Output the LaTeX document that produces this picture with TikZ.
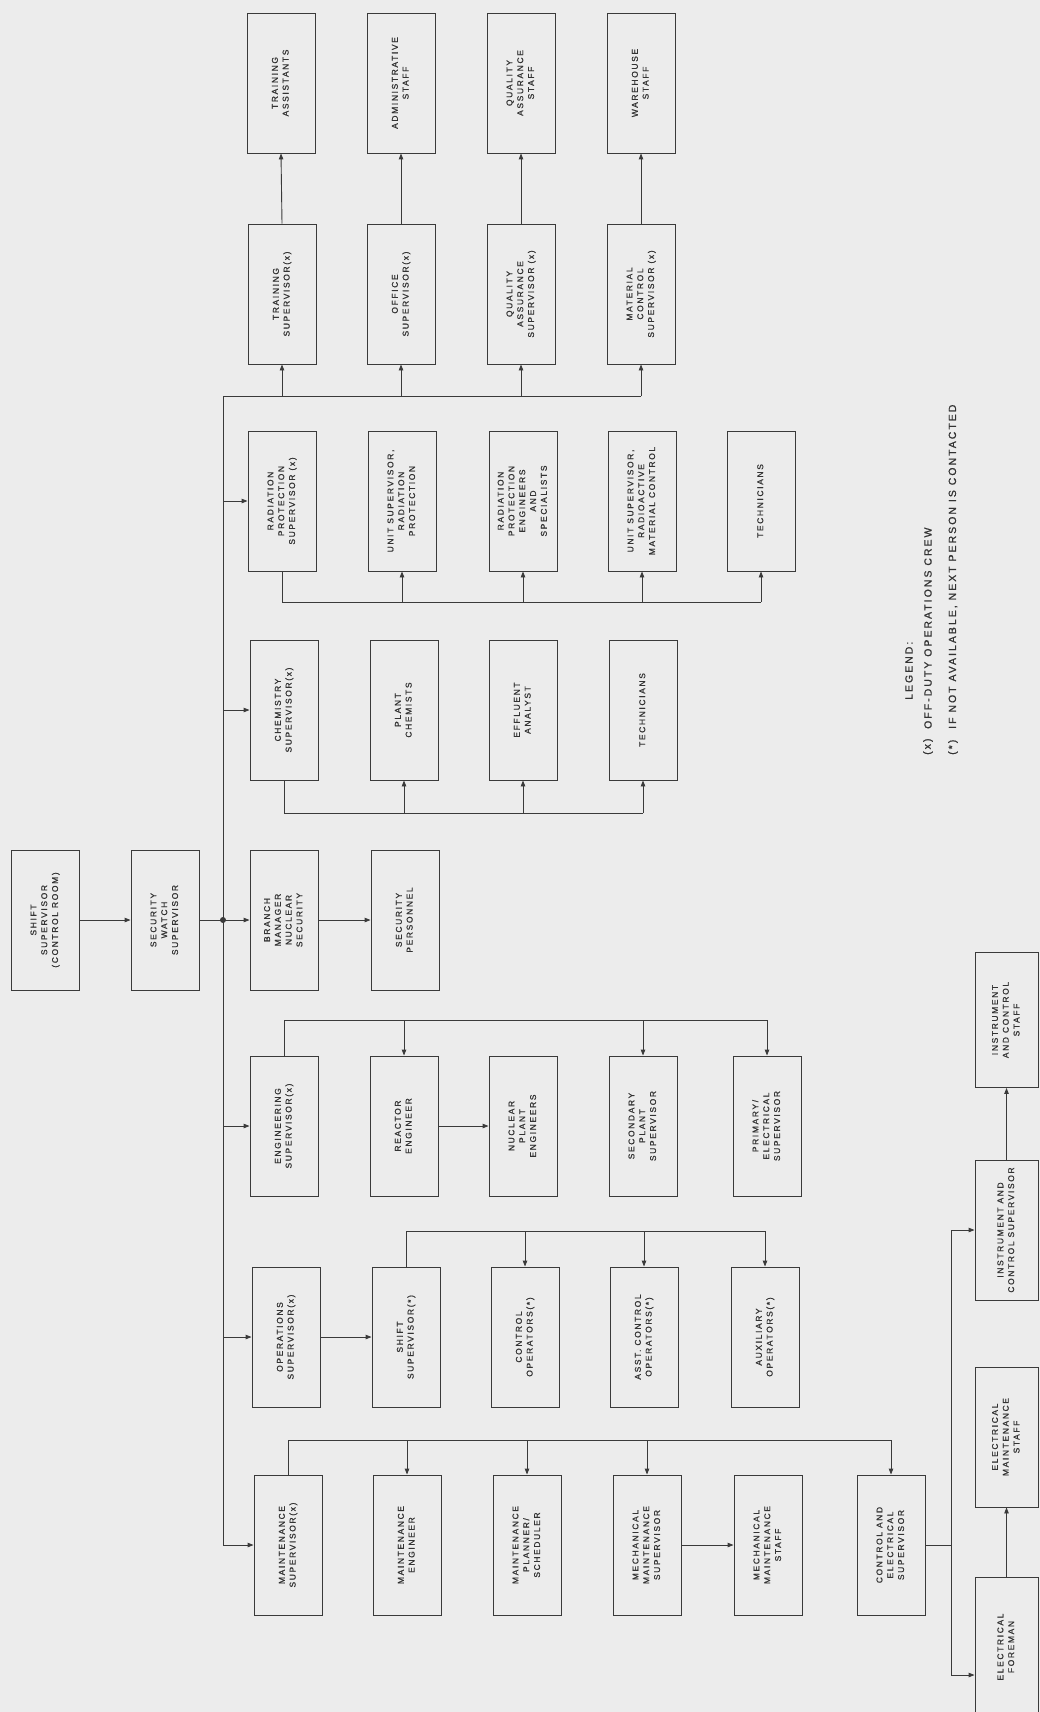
\documentclass[tikz,border=0pt]{standalone}
\usepackage{fontspec}
\usepackage{graphicx}
\newfontfamily\boxfnt[LetterSpace=20,FakeBold=1]{Liberation Sans}
\usetikzlibrary{arrows.meta}
\definecolor{lc}{HTML}{3A3A3A}
\definecolor{bgc}{HTML}{ECECEC}
\definecolor{tc}{HTML}{333333}
\newcommand\bxt[1]{\rotatebox{90}{\begin{tabular}{@{}c@{}}#1\end{tabular}}}
\begin{document}
\begin{tikzpicture}[x=1pt,y=-1pt,
  bx/.style={draw=lc, line width=0.9pt, fill=bgc, minimum width=68pt, minimum height=140pt,
    inner sep=0pt, font=\boxfnt\fontsize{8.4}{10.8}\selectfont, text=tc},
  ln/.style={draw=lc, line width=0.9pt},
  ar/.style={ln, -{Triangle[length=6pt,width=4.5pt]}},
  lg/.style={rotate=90, anchor=west, inner sep=0pt, font=\boxfnt\fontsize{10.4}{11}\selectfont, text=tc}]
\fill[bgc] (0,0) rectangle (1040,1712);
\useasboundingbox (0,0) rectangle (1040,1712);

% top of the chain
\node[bx] (ss) at (45,920) {\bxt{SHIFT\\SUPERVISOR\\(CONTROL ROOM)}};
\node[bx] (sw) at (165,920) {\bxt{SECURITY\\WATCH\\SUPERVISOR}};

% row A
\node[bx] (TA) at (281,83) {\bxt{TRAINING\\ASSISTANTS}};
\node[bx] (AS) at (401,83) {\bxt{ADMINISTRATIVE\\STAFF}};
\node[bx] (QS) at (521,83) {\bxt{QUALITY\\ASSURANCE\\STAFF}};
\node[bx] (WS) at (641,83) {\bxt{WAREHOUSE\\STAFF}};
% row B
\node[bx] (TS) at (282,294) {\bxt{TRAINING\\SUPERVISOR(x)}};
\node[bx] (OS) at (401,294) {\bxt{OFFICE\\SUPERVISOR(x)}};
\node[bx] (QAS) at (521,294) {\bxt{QUALITY\\ASSURANCE\\SUPERVISOR (x)}};
\node[bx] (MCS) at (641,294) {\bxt{MATERIAL\\CONTROL\\SUPERVISOR (x)}};
% row C
\node[bx] (RPS) at (282,501) {\bxt{RADIATION\\PROTECTION\\SUPERVISOR (x)}};
\node[bx] (USRP) at (402,501) {\bxt{UNIT SUPERVISOR,\\RADIATION\\PROTECTION}};
\node[bx] (RPE) at (523,501) {\bxt{RADIATION\\PROTECTION\\ENGINEERS\\AND\\SPECIALISTS}};
\node[bx] (USRM) at (642,501) {\bxt{UNIT SUPERVISOR,\\RADIOACTIVE\\MATERIAL CONTROL}};
\node[bx] (TC) at (761,501) {\bxt{TECHNICIANS}};
% row D
\node[bx] (CS) at (284,710) {\bxt{CHEMISTRY\\SUPERVISOR(x)}};
\node[bx] (PC) at (404,710) {\bxt{PLANT\\CHEMISTS}};
\node[bx] (EA) at (523,710) {\bxt{EFFLUENT\\ANALYST}};
\node[bx] (TD) at (643,710) {\bxt{TECHNICIANS}};
% row E
\node[bx] (BM) at (284,920) {\bxt{BRANCH\\MANAGER\\NUCLEAR\\SECURITY}};
\node[bx] (SP) at (405,920) {\bxt{SECURITY\\PERSONNEL}};
% row F
\node[bx] (ES) at (284,1126) {\bxt{ENGINEERING\\SUPERVISOR(x)}};
\node[bx] (RE) at (404,1126) {\bxt{REACTOR\\ENGINEER}};
\node[bx] (NPE) at (523,1126) {\bxt{NUCLEAR\\PLANT\\ENGINEERS}};
\node[bx] (SPS) at (643,1126) {\bxt{SECONDARY\\PLANT\\SUPERVISOR}};
\node[bx] (PES) at (767,1126) {\bxt{PRIMARY/\\ELECTRICAL\\SUPERVISOR}};
% row G
\node[bx] (OPS) at (286,1337) {\bxt{OPERATIONS\\SUPERVISOR(x)}};
\node[bx] (SSU) at (406,1337) {\bxt{SHIFT\\SUPERVISOR(*)}};
\node[bx] (CO) at (525,1337) {\bxt{CONTROL\\OPERATORS(*)}};
\node[bx] (ACO) at (644,1337) {\bxt{ASST. CONTROL\\OPERATORS(*)}};
\node[bx] (AO) at (765,1337) {\bxt{AUXILIARY\\OPERATORS(*)}};
% row H
\node[bx] (MS) at (288,1545) {\bxt{MAINTENANCE\\SUPERVISOR(x)}};
\node[bx] (ME) at (407,1545) {\bxt{MAINTENANCE\\ENGINEER}};
\node[bx] (MPS) at (527,1545) {\bxt{MAINTENANCE\\PLANNER/\\SCHEDULER}};
\node[bx] (MMS) at (647,1545) {\bxt{MECHANICAL\\MAINTENANCE\\SUPERVISOR}};
\node[bx] (MMT) at (768,1545) {\bxt{MECHANICAL\\MAINTENANCE\\STAFF}};
\node[bx] (CES) at (891,1545) {\bxt{CONTROL AND\\ELECTRICAL\\SUPERVISOR}};
% right-hand column
\node[bx, minimum width=63pt, minimum height=135pt] (ICT) at (1006.5,1020) {\bxt{INSTRUMENT\\AND CONTROL\\STAFF}};
\node[bx, minimum width=63pt] (ICS) at (1006.5,1230) {\bxt{INSTRUMENT AND\\CONTROL SUPERVISOR}};
\node[bx, minimum width=63pt] (EMS) at (1006.5,1437) {\bxt{ELECTRICAL\\MAINTENANCE\\STAFF}};
\node[bx, minimum width=63pt] (EF) at (1006.5,1647) {\bxt{ELECTRICAL\\FOREMAN}};

% legend
\node[lg] (lgh) at (909,700) {LEGEND:};
\node[lg] (lgm1) at (928,755) {(x)};
\node[lg] (lgt1) at (928,729) {OFF-DUTY OPERATIONS CREW};
\node[lg] (lgm2) at (953,755) {(*)};
\node[lg] (lgt2) at (953,729) {IF NOT AVAILABLE, NEXT PERSON IS CONTACTED};

% trunk
\coordinate (tTop) at (223,396);
\coordinate (tBot) at (223,1545);
\coordinate (jn) at (223,920);
\draw[ar] (ss) -- (sw);
\draw[ln] (sw.east) -- (jn);
\fill[lc] (jn) circle (3);
\draw[ln] (MCS.south |- tTop) -- (tTop) -- (tBot);
\draw[ar] (tBot) -- (MS.west);
\foreach \n in {RPS,CS,BM,ES,OPS} \draw[ar] (tTop |- \n.west) -- (\n.west);

% row B / A
\foreach \n/\m in {TS/TA,OS/AS,QAS/QS,MCS/WS} {
  \draw[ar] (\n.south |- tTop) -- (\n.south);
  \draw[ar] (\n.north) -- (\m.south);
}
% row C
\coordinate (cbar) at (0,602);
\draw[ln] (RPS.south) -- (RPS.south |- cbar) -- (TC.south |- cbar);
\foreach \n in {USRP,RPE,USRM,TC} \draw[ar] (\n.south |- cbar) -- (\n.south);
% row D
\coordinate (dbar) at (0,813);
\draw[ln] (CS.south) -- (CS.south |- dbar) -- (TD.south |- dbar);
\foreach \n in {PC,EA,TD} \draw[ar] (\n.south |- dbar) -- (\n.south);
% row E
\draw[ar] (BM) -- (SP);
% row F
\coordinate (fbar) at (0,1020);
\draw[ln] (ES.north) -- (ES.north |- fbar) -- (PES.north |- fbar);
\foreach \n in {RE,SPS,PES} \draw[ar] (\n.north |- fbar) -- (\n.north);
\draw[ar] (RE) -- (NPE);
% row G
\coordinate (gbar) at (0,1231);
\draw[ar] (OPS) -- (SSU);
\draw[ln] (SSU.north) -- (SSU.north |- gbar) -- (AO.north |- gbar);
\foreach \n in {CO,ACO,AO} \draw[ar] (\n.north |- gbar) -- (\n.north);
% row H
\coordinate (hbar) at (0,1440);
\draw[ln] (MS.north) -- (MS.north |- hbar) -- (CES.north |- hbar);
\foreach \n in {ME,MPS,MMS,CES} \draw[ar] (\n.north |- hbar) -- (\n.north);
\draw[ar] (MMS) -- (MMT);
% right-hand column
\coordinate (rTop) at (951,1230);
\coordinate (rMid) at (951,1545);
\coordinate (rBot) at (951,1675);
\draw[ln] (CES.east) -- (rMid);
\draw[ln] (rTop) -- (rBot);
\draw[ar] (rTop) -- (ICS.west);
\draw[ar] (rBot) -- (rBot -| EF.west);
\draw[ar] (ICS) -- (ICT);
\draw[ar] (EF) -- (EMS);
\end{tikzpicture}
\end{document}
